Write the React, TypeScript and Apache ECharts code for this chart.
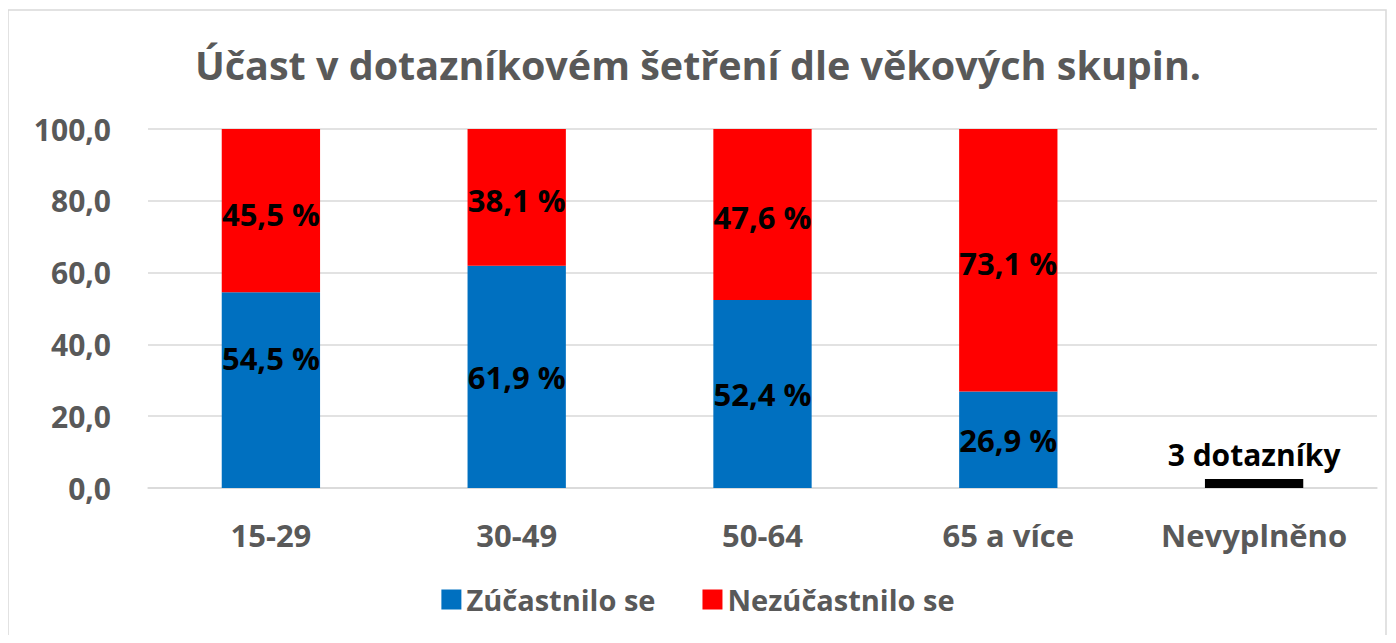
import React, { useEffect, useRef } from "react";
import * as echarts from "echarts";

const categories = ["15-29", "30-49", "50-64", "65 a více", "Nevyplněno"];
const participated = [54.5, 61.9, 52.4, 26.9, null];
const notParticipated = [45.5, 38.1, 47.6, 73.1, null];
const unfilled = [null, null, null, null, 2.5];
const unfilledLabel = "3 dotazníky";
const title = "Účast v dotazníkovém šetření dle věkových skupin.";
const seriesNames = ["Zúčastnilo se", "Nezúčastnilo se"];

const FONT = "'Open Sans', 'Noto Sans', sans-serif";
const fmt = (v: number) => v.toFixed(1).replace(".", ",");

export default function App() {
  const ref = useRef<HTMLDivElement>(null);
  useEffect(() => {
    if (!ref.current) return;
    const chart = echarts.init(ref.current, undefined, { renderer: "svg" });
    const dataLabel = {
      show: true,
      position: "inside",
      color: "#000",
      fontFamily: FONT,
      fontWeight: "bold",
      fontSize: 31,
      formatter: (p: any) => fmt(p.value) + " %",
    };
    chart.setOption({
      animation: false,
      textStyle: { fontFamily: FONT },
      title: {
        text: title,
        left: "center",
        top: 32,
        textStyle: { fontFamily: FONT, fontSize: 39.5, fontWeight: "bold", color: "#595959" },
      },
      graphic: [
        {
          type: "rect",
          shape: { x: 0, y: 2, width: 1378, height: 640 },
          style: { fill: "none", stroke: "#d9d9d9", lineWidth: 1.5 },
          silent: true,
        },
      ],
      legend: {
        data: seriesNames,
        bottom: 16,
        left: "center",
        itemWidth: 20,
        itemHeight: 20,
        itemGap: 47,
        icon: "rect",
        textStyle: { fontFamily: FONT, fontSize: 29, fontWeight: "bold", color: "#595959" },
      },
      grid: { left: 140, right: 11, top: 121, bottom: 147 },
      xAxis: {
        type: "category",
        data: categories,
        axisTick: { show: false },
        axisLine: { lineStyle: { color: "#d9d9d9", width: 1.5 } },
        axisLabel: {
          interval: 0,
          fontFamily: FONT,
          fontSize: 31,
          fontWeight: "bold",
          color: "#595959",
          margin: 31,
        },
      },
      yAxis: {
        type: "value",
        min: 0,
        max: 100,
        interval: 20,
        axisLabel: {
          fontFamily: FONT,
          fontSize: 30,
          fontWeight: "bold",
          color: "#595959",
          margin: 37,
          formatter: (v: number) => fmt(v),
        },
        splitLine: { lineStyle: { color: "#d9d9d9", width: 1.5 } },
        axisLine: { show: false },
        axisTick: { show: false },
      },
      series: [
        {
          name: seriesNames[0],
          type: "bar",
          stack: "total",
          barWidth: "40%",
          itemStyle: { color: "#0070C0" },
          label: dataLabel,
          data: participated.map((v, i) =>
            i === 0 ? { value: v, label: { offset: [0, -32] } } : v
          ),
        },
        {
          name: seriesNames[1],
          type: "bar",
          stack: "total",
          barWidth: "40%",
          itemStyle: { color: "#FF0000" },
          label: { ...dataLabel, offset: [0, 3] },
          data: notParticipated,
        },
        {
          name: "Nevyplněno",
          type: "bar",
          stack: "total",
          barWidth: "40%",
          itemStyle: { color: "#000000" },
          label: {
            show: true,
            position: "top",
            distance: 10,
            color: "#000",
            fontFamily: FONT,
            fontWeight: "bold",
            fontSize: 30,
            formatter: () => unfilledLabel,
          },
          data: unfilled,
        },
      ],
    });
    return () => chart.dispose();
  }, []);
  return <div ref={ref} style={{ width: 1380, height: 627 }} />;
}
